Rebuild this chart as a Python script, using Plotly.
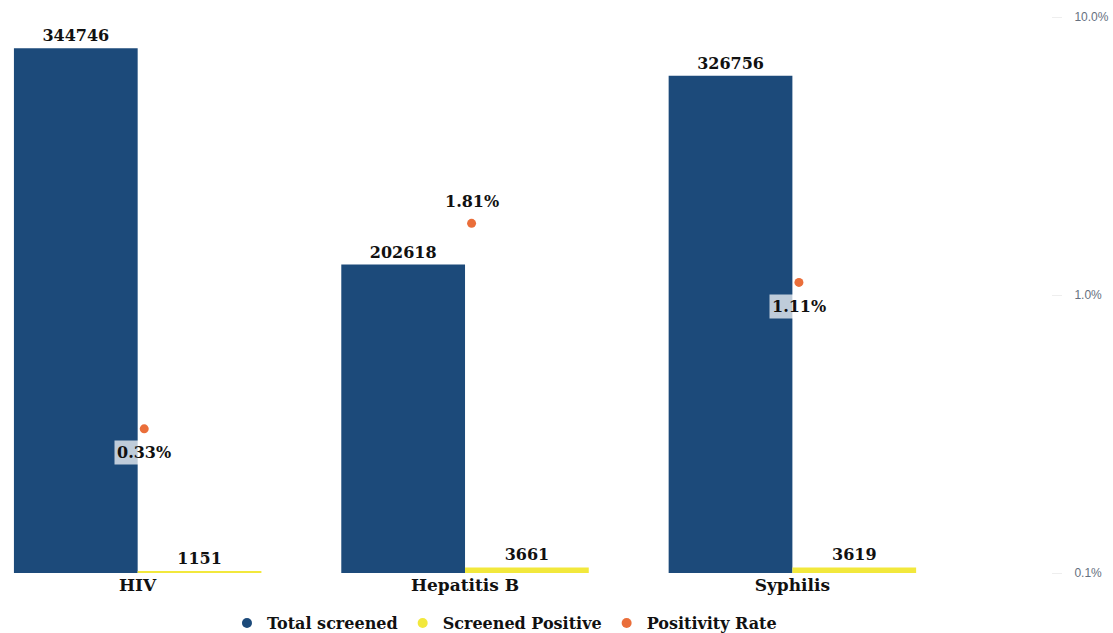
import math
import plotly.graph_objects as go

# Screening results per infection
categories = ["HIV", "Hepatitis B", "Syphilis"]
total_screened = [344746, 202618, 326756]
screened_positive = [1151, 3661, 3619]
positivity_rate = [0.33, 1.81, 1.11]  # percent
rate_labels = ["0.33%", "1.81%", "1.11%"]
rate_label_above = [False, True, False]
rate_ticks = [0.1, 1, 10]
rate_ticktext = ["0.1%", "1.0%", "10.0%"]

BLUE = "#1C4A7A"
YELLOW = "#F2E83C"
ORANGE = "#EA6E3A"
SERIF = "DejaVu Serif"
DOT_SHIFT = 0.02  # rate markers sit just right of the group centre

x = list(range(len(categories)))
x_rate = [i + DOT_SHIFT for i in x]

fig = go.Figure()
fig.add_trace(go.Bar(
    x=x, y=total_screened, name="Total screened", showlegend=False,
    marker=dict(color=BLUE, line=dict(width=0)),
    text=[str(v) for v in total_screened], textposition="outside",
    texttemplate="<b>%{text}</b>",
    textfont=dict(family=SERIF, size=16, color="#111111"),
    cliponaxis=False,
))
fig.add_trace(go.Bar(
    x=x, y=screened_positive, name="Screened Positive", showlegend=False,
    marker=dict(color=YELLOW, line=dict(width=0)),
    text=[str(v) for v in screened_positive], textposition="outside",
    texttemplate="<b>%{text}</b>",
    textfont=dict(family=SERIF, size=16, color="#111111"),
    cliponaxis=False,
))
fig.add_trace(go.Scatter(
    x=x_rate, y=positivity_rate, name="Positivity Rate", yaxis="y2",
    mode="markers", marker=dict(color=ORANGE, size=9), showlegend=False,
))

# Legend entries drawn as round swatches
for name, color in [("Total screened", BLUE), ("Screened Positive", YELLOW),
                    ("Positivity Rate", ORANGE)]:
    fig.add_trace(go.Scatter(
        x=[None], y=[None], mode="markers", name="<b>" + name + "</b>",
        marker=dict(color=color, size=10), showlegend=True,
    ))

for xi, r, lab, above in zip(x_rate, positivity_rate, rate_labels, rate_label_above):
    fig.add_annotation(
        x=xi, y=math.log10(r), yref="y2", text="<b>" + lab + "</b>",
        showarrow=False, yshift=22 if above else -24,
        font=dict(family=SERIF, size=16, color="#111111"),
        bgcolor="rgba(255,255,255,0.72)", borderpad=2,
    )

fig.update_layout(
    width=1113, height=633,
    margin=dict(l=10, r=62, t=17, b=60, autoexpand=False),
    paper_bgcolor="white", plot_bgcolor="white",
    barmode="group", bargap=0.244, bargroupgap=0,
    font=dict(family=SERIF, size=16, color="#111111"),
    xaxis=dict(
        range=[-0.39, 2.79], tickmode="array", tickvals=x,
        ticktext=["<b>" + c + "</b>" for c in categories],
        tickfont=dict(family=SERIF, size=17, color="#111111"),
        showgrid=False, zeroline=False, showline=False, ticks="",
    ),
    yaxis=dict(range=[0, 365300], visible=False, showgrid=False),
    yaxis2=dict(
        type="log", range=[-1, 1], overlaying="y", side="right",
        tickmode="array", tickvals=rate_ticks, ticktext=rate_ticktext,
        tickfont=dict(family="Liberation Sans", size=12, color="#667080"),
        showgrid=False, zeroline=False, showline=False,
        ticks="outside", ticklen=10, tickcolor="#eeeeee", tickwidth=1,
        ticklabelstandoff=10,
    ),
    legend=dict(
        orientation="h", x=0.475, xanchor="center", y=-0.09, yanchor="middle",
        font=dict(family=SERIF, size=16, color="#111111"),
        itemwidth=30, tracegroupgap=0,
    ),
    showlegend=True,
)

fig.write_html("out.html")
